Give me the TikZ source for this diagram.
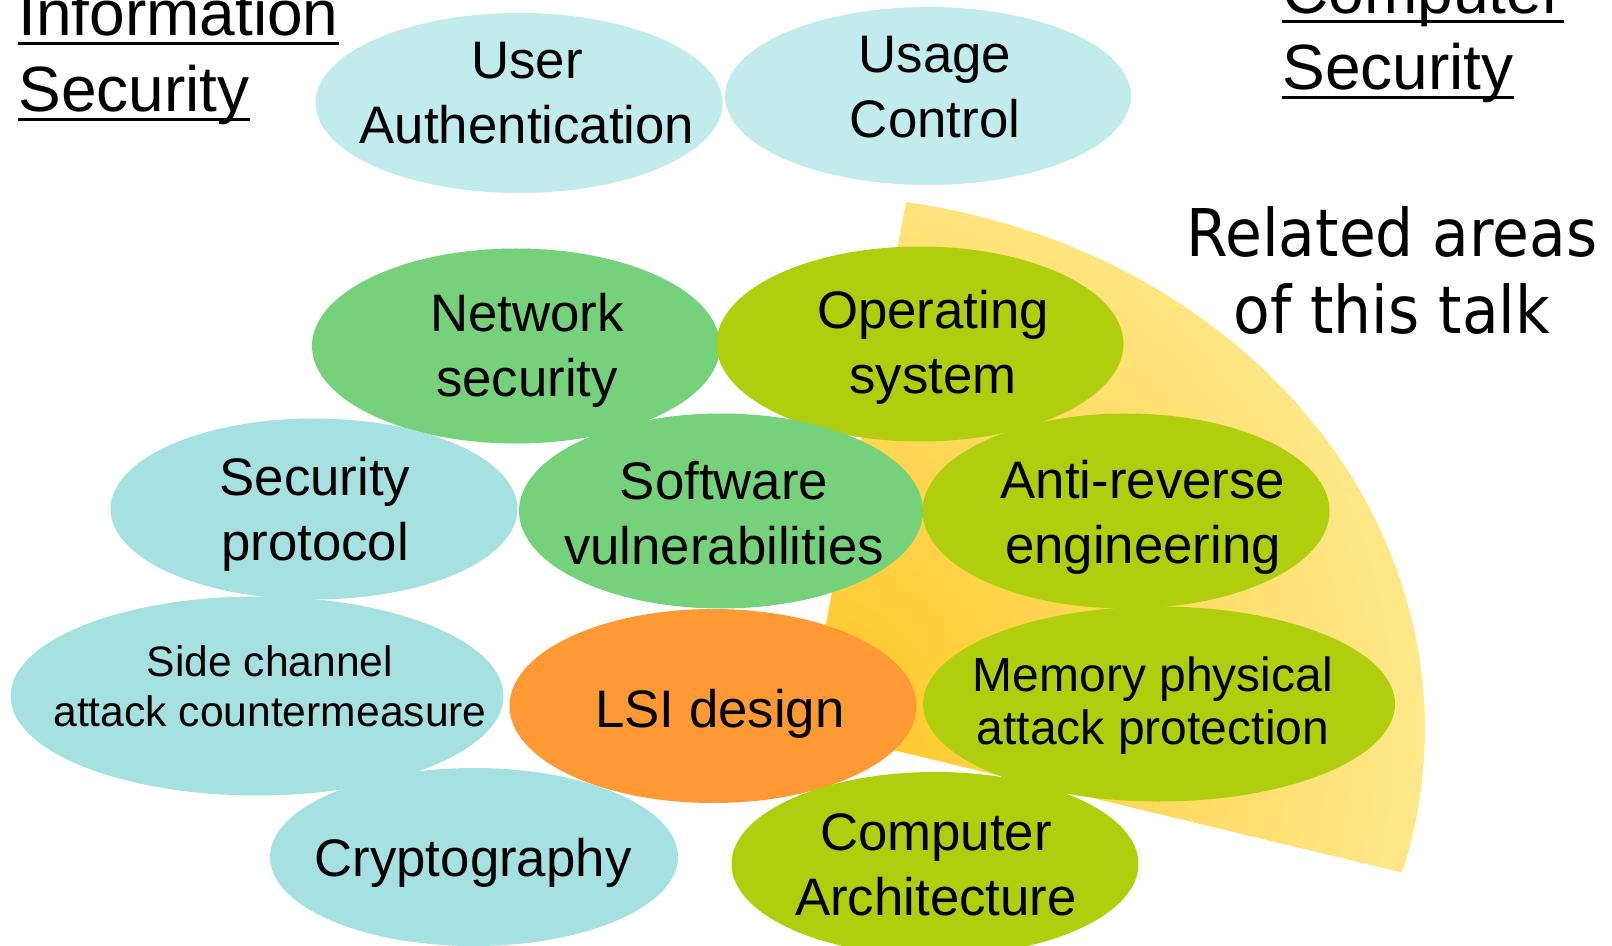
\documentclass[tikz,border=0pt]{standalone}
\usepackage{fontspec}
\setmainfont{Liberation Sans}
\newfontfamily\relfont[FakeStretch=0.91]{DejaVu Sans}
\usetikzlibrary{shapes.geometric}
\definecolor{cyanA}{HTML}{C2EBEB}
\definecolor{cyanB}{HTML}{A5E1E1}
\definecolor{grn}{HTML}{75D17A}
\definecolor{ygrn}{HTML}{AFCE0E}
\definecolor{orng}{HTML}{FF9933}
\definecolor{wedgeIn}{HTML}{FFC622}
\definecolor{wedgeOut}{HTML}{FFF0A4}
\pgfdeclareradialshading{wedgeshade}{\pgfpointorigin}{color(0bp)=(wedgeIn); color(30bp)=(wedgeOut); color(50bp)=(wedgeOut)}
\begin{document}
\begin{tikzpicture}[x=0.5pt,y=-0.5pt,
  blob/.style={ellipse, inner sep=0pt, outer sep=0pt, draw=none},
  lbl/.style={anchor=north, align=center, inner sep=0pt, font=\fontsize{26.4pt}{32.4pt}\selectfont},
  ttl/.style={anchor=base west, inner sep=0pt, font=\fontsize{32pt}{38pt}\selectfont},
  uline/.style={line width=1.65pt}]
\useasboundingbox (0,0) rectangle (1612,946);
% highlighted wedge
\coordinate (apex) at (806,729);
\begin{scope}
  \clip (apex) -- ++(80.7:309.5pt and 267pt)
        arc[start angle=80.7, end angle=-15.6, x radius=309.5pt, y radius=267pt] -- cycle;
  \shade[shading=wedgeshade] (apex) circle[radius=320pt];
\end{scope}
% ellipses
\node[blob, fill=cyanA, minimum width=203.5pt, minimum height=90pt]   (ua)  at (519,103) {};
\node[blob, fill=cyanA, minimum width=203pt,   minimum height=89pt]   (uc)  at (928,96)  {};
\node[blob, fill=grn,   minimum width=204pt,   minimum height=97.5pt] (ns)  at (516,346) {};
\node[blob, fill=ygrn,  minimum width=203.5pt, minimum height=97.5pt] (os)  at (920,344) {};
\node[blob, fill=cyanB, minimum width=203.5pt, minimum height=90.5pt] (sp)  at (314,509) {};
\node[blob, fill=grn,   minimum width=202pt,   minimum height=97.5pt] (sv)  at (721,511) {};
\node[blob, fill=ygrn,  minimum width=203.5pt, minimum height=97.5pt] (ar)  at (1126,511) {};
\node[blob, fill=cyanB, minimum width=246.5pt, minimum height=99.5pt] (sc)  at (257,696) {};
\node[blob, fill=orng,  minimum width=203.5pt, minimum height=97pt]   (lsi) at (713,706) {};
\node[blob, fill=ygrn,  minimum width=236pt,   minimum height=97.5pt] (mp)  at (1159,704) {};
\node[blob, fill=cyanB, minimum width=204pt,   minimum height=89pt]   (cr)  at (474,857) {};
\node[blob, fill=ygrn,  minimum width=203.5pt, minimum height=92pt]   (ca)  at (935,864) {};
% labels
\node[lbl] (uat)  at (527,42)  {User\\Authentication};
\node[lbl] (uct)  at (935,36)  {Usage\\Control};
\node[lbl] (nst)  at (527,293) {Network\\security};
\node[lbl] (ost)  at (933,290) {Operating\\system};
\node[lbl] (spt)  at (315,457) {Security\\protocol};
\node[lbl] (svt)  at (724,461) {Software\\vulnerabilities};
\node[lbl] (art)  at (1143,460) {Anti-reverse\\engineering};
\node[lbl, font=\fontsize{21.3pt}{25pt}\selectfont] (sct) at (270,645) {Side channel\\attack countermeasure};
\node[lbl] (lsit) at (720,689) {LSI design};
\node[lbl, font=\fontsize{24pt}{26.7pt}\selectfont] (mpt) at (1153,656) {Memory physical\\attack protection};
\node[lbl] (crt)  at (473,838) {Cryptography};
\node[lbl] (cat)  at (936,813) {Computer\\Architecture};
% related areas caption
\node[anchor=north, align=center, inner sep=0pt, font=\relfont\fontsize{32.9pt}{38.5pt}\selectfont] (rel) at (1392,206) {Related areas\\of this talk};
% titles
\node[ttl] (is1) at (18,36)  {Information};
\node[ttl] (is2) at (18,112) {Security};
\node[ttl] (cs1) at (1282,14) {Computer};
\node[ttl] (cs2) at (1282,90) {Security};
\foreach \t in {is1,is2,cs1,cs2}
  \draw[uline] ([yshift=-3.6pt]\t.base west) -- ([yshift=-3.6pt]\t.base east);
\end{tikzpicture}
\end{document}
